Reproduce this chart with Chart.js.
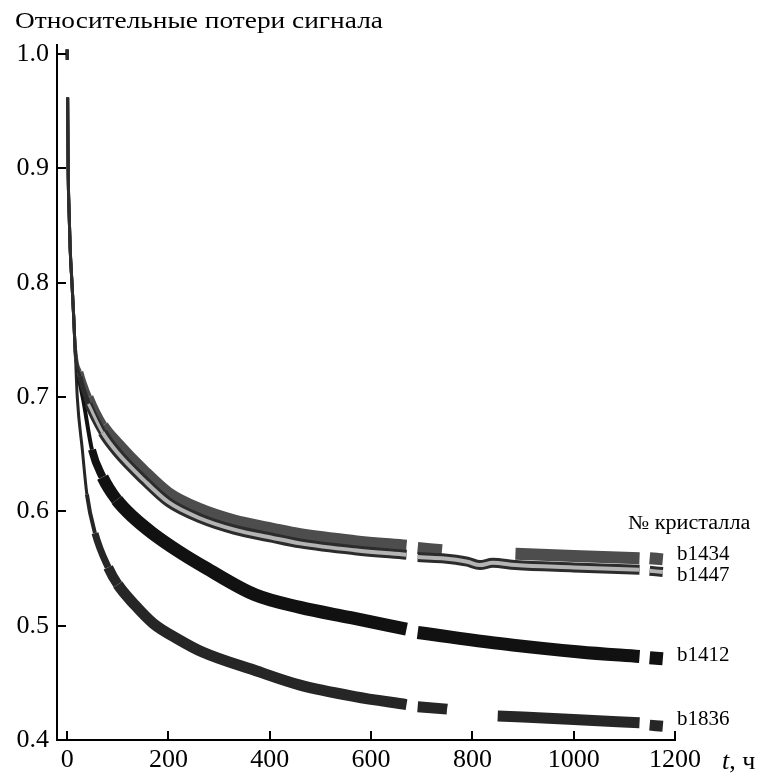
<!DOCTYPE html>
<html>
<head>
<meta charset="utf-8">
<script src="https://cdn.jsdelivr.net/npm/chart.js@4.4.1/dist/chart.umd.min.js"></script>
<style>
  body { margin: 0; background: #fff; }
  canvas { display: block; }
</style>
</head>
<body>
<canvas id="chart" width="762" height="773"></canvas>
<script>
// common start of all four curves (t in hours, relative signal)
const tTrunk = [0, 0.4, 0.8, 1, 2, 4, 6, 9.5, 13, 16];
const vTrunk = [1.004, 0.995, null, 0.962, 0.90, 0.86, 0.83, 0.80, 0.77, 0.741];

const tB1836 = [20, 30, 39, 55, 81, 100, 134, 170, 220, 267, 370, 460, 568, 670, 680, 692, 750, 800, 850, 1000, 1130, 1140, 1150, 1176];
const vB1836 = [0.700, 0.654, 0.615, 0.581, 0.551, 0.536, 0.518, 0.502, 0.488, 0.477, 0.461, 0.448, 0.438, 0.431, null, 0.429, 0.427, null, 0.421, 0.418, 0.415, null, 0.413, 0.412];

const tB1412 = [22, 32, 49, 70, 98, 130, 168, 220, 272, 371, 460, 560, 670, 680, 692, 880, 1012, 1130, 1140, 1150, 1176];
const vB1412 = [0.720, 0.697, 0.654, 0.630, 0.610, 0.595, 0.581, 0.565, 0.551, 0.527, 0.516, 0.507, 0.497, null, 0.494, 0.483, 0.477, 0.473, null, 0.472, 0.471];

const tB1434 = [25, 42, 70, 100, 150, 200, 262, 330, 404, 460, 568, 670, 680, 692, 740, 800, 885, 1000, 1130, 1140, 1150, 1176];
const vB1434 = [0.722, 0.700, 0.675, 0.659, 0.636, 0.616, 0.602, 0.592, 0.585, 0.580, 0.574, 0.570, null, 0.568, 0.566, null, 0.563, 0.561, 0.559, null, 0.559, 0.558];

const tB1447 = [25, 42, 70, 100, 150, 200, 262, 330, 404, 460, 568, 670, 680, 692, 740, 790, 815, 840, 885, 1000, 1130, 1140, 1150, 1176];
const vB1447 = [0.718, 0.694, 0.669, 0.651, 0.628, 0.608, 0.594, 0.584, 0.577, 0.572, 0.566, 0.562, null, 0.560, 0.559, 0.556, 0.553, 0.555, 0.553, 0.551, 0.549, null, 0.548, 0.547];

const xTicks = [0, 200, 400, 600, 800, 1000, 1200];
const yTicks = [0.4, 0.5, 0.6, 0.7, 0.8, 0.9, 1.0];

// curve names on the right, placed at a signal level
const seriesNames = ['b1434', 'b1447', 'b1412', 'b1836'];
const nameLevels = [0.562, 0.5435, 0.474, 0.418];

const serif = '"Liberation Serif", "Times New Roman", serif';

function toPoints(ts, vs, withTrunk) {
  const pts = [];
  if (withTrunk) {
    tTrunk.forEach((t, i) => pts.push({ x: t, y: vTrunk[i] }));
  }
  ts.forEach((t, i) => pts.push({ x: t, y: vs[i] }));
  return pts;
}

// noise band has a fixed vertical thickness, so steep parts look thinner
function bandWidth(w) {
  return ctx => {
    const dx = ctx.p1.x - ctx.p0.x;
    const dy = ctx.p1.y - ctx.p0.y;
    const cos = Math.abs(dx) / (Math.hypot(dx, dy) || 1);
    return Math.round(Math.min(w, Math.max(3, w * cos * 1.8)));
  };
}

function lineSet(label, data, color, w, order) {
  return {
    label: label,
    data: data,
    borderColor: color,
    borderWidth: w,
    pointRadius: 0,
    cubicInterpolationMode: 'monotone',
    spanGaps: false,
    borderCapStyle: 'butt',
    borderJoinStyle: 'round',
    order: order,
    segment: { borderWidth: bandWidth(w) }
  };
}

// the original's cyrillic face is wider than Liberation Serif
function wideText(ctx, text, x, y, sx) {
  ctx.save();
  ctx.translate(x, y);
  ctx.scale(sx, 1);
  ctx.fillText(text, 0, 0);
  ctx.restore();
}

const ticksAndText = {
  id: 'ticksAndText',
  afterDraw(chart) {
    const { ctx, chartArea } = chart;
    const xs = chart.scales.x, ys = chart.scales.y;
    ctx.save();
    ctx.strokeStyle = '#000';
    ctx.lineWidth = 2;
    ctx.beginPath();
    yTicks.forEach(v => {
      const py = Math.round(ys.getPixelForValue(v));
      ctx.moveTo(chartArea.left, py);
      ctx.lineTo(chartArea.left + 9, py);
    });
    xTicks.forEach(v => {
      const px = Math.round(xs.getPixelForValue(v));
      ctx.moveTo(px, chartArea.bottom);
      ctx.lineTo(px, chartArea.bottom - 9);
    });
    ctx.stroke();

    ctx.fillStyle = '#000';
    ctx.textBaseline = 'alphabetic';
    ctx.textAlign = 'left';
    ctx.font = '23px ' + serif;
    wideText(ctx, 'Относительные потери сигнала', 15, 28, 1.19);

    ctx.font = '20px ' + serif;
    wideText(ctx, '№ кристалла', 628, 529, 1.11);

    ctx.font = '21px ' + serif;
    ctx.textBaseline = 'middle';
    seriesNames.forEach((n, i) => {
      ctx.fillText(n, 677, ys.getPixelForValue(nameLevels[i]));
    });

    ctx.textBaseline = 'alphabetic';
    ctx.font = 'italic 26px ' + serif;
    ctx.fillText('t', 722, 769);
    const tw = ctx.measureText('t').width;
    ctx.font = '26px ' + serif;
    ctx.fillText(', ч', 722 + tw, 769);
    ctx.restore();
  }
};

const light = toPoints(tB1447, vB1447, false).filter(p => p.x >= 40);

new Chart(document.getElementById('chart'), {
  type: 'line',
  data: {
    datasets: [
      lineSet('b1447 light', light, '#b4b4b4', 3.5, 0),
      lineSet('b1447', toPoints(tB1447, vB1447, true), '#2c2c2c', 10, 1),
      lineSet('b1434', toPoints(tB1434, vB1434, true), '#4d4d4d', 12, 2),
      lineSet('b1412', toPoints(tB1412, vB1412, true), '#111111', 13, 3),
      lineSet('b1836', toPoints(tB1836, vB1836, true), '#262626', 11, 4)
    ]
  },
  options: {
    responsive: false,
    animation: false,
    layout: { padding: { top: 45, right: 87, left: 0, bottom: 0 } },
    plugins: { legend: { display: false }, tooltip: { enabled: false } },
    scales: {
      x: {
        type: 'linear',
        min: -20,
        max: 1200,
        afterBuildTicks: s => { s.ticks = xTicks.map(v => ({ value: v })); },
        afterFit: s => { s.height = 33; },
        grid: { display: false, drawTicks: false },
        border: { color: '#000', width: 2 },
        ticks: { color: '#000', font: { family: serif, size: 26 }, padding: 5, maxRotation: 0, callback: v => String(v) }
      },
      y: {
        type: 'linear',
        min: 0.4,
        max: 1.008,
        afterBuildTicks: s => { s.ticks = yTicks.map(v => ({ value: v })); },
        afterFit: s => { s.width = 57; },
        grid: { display: false, drawTicks: false },
        border: { color: '#000', width: 2 },
        ticks: { color: '#000', font: { family: serif, size: 26 }, padding: 8, callback: v => v.toFixed(1) }
      }
    }
  },
  plugins: [ticksAndText]
});
</script>
</body>
</html>
